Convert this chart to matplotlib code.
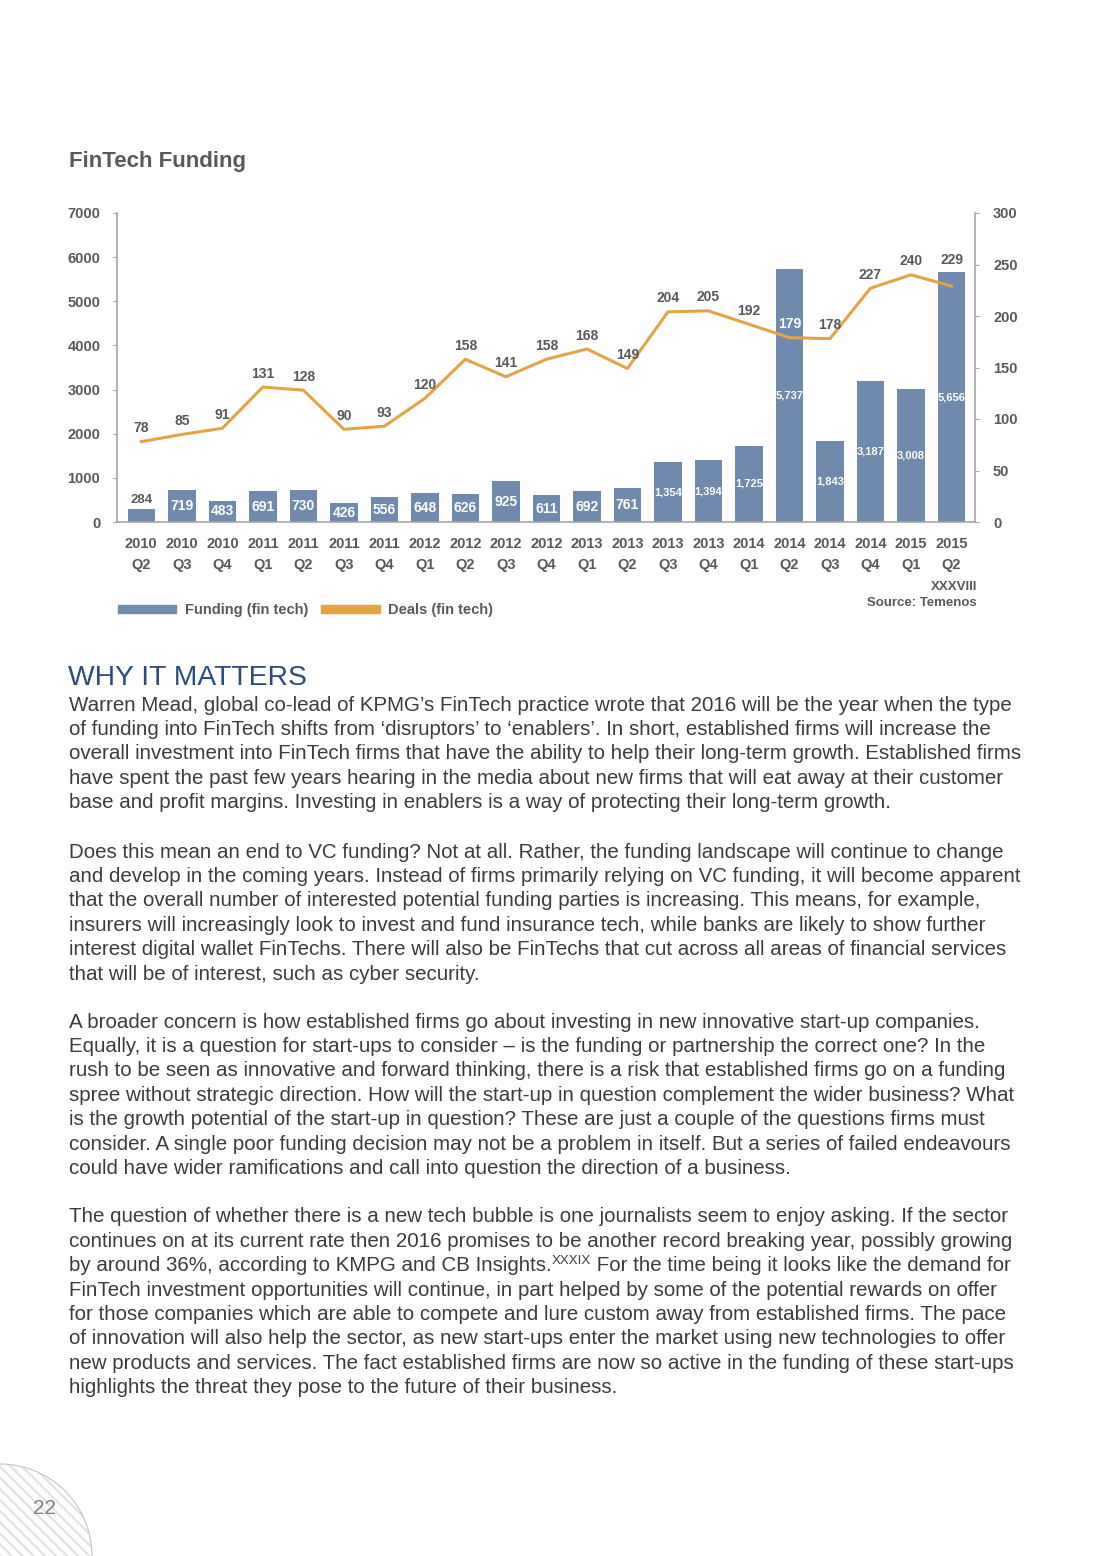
import matplotlib
matplotlib.use("Agg")
import matplotlib.pyplot as plt
from matplotlib.patches import Patch, Circle
import numpy as np

plt.rcParams['font.family'] = ['Liberation Sans', 'DejaVu Sans']
plt.rcParams['hatch.linewidth'] = 1.6

# chart data
labels = ['2010\nQ2', '2010\nQ3', '2010\nQ4', '2011\nQ1', '2011\nQ2', '2011\nQ3', '2011\nQ4',
          '2012\nQ1', '2012\nQ2', '2012\nQ3', '2012\nQ4', '2013\nQ1', '2013\nQ2', '2013\nQ3',
          '2013\nQ4', '2014\nQ1', '2014\nQ2', '2014\nQ3', '2014\nQ4', '2015\nQ1', '2015\nQ2']
funding = [284, 719, 483, 691, 730, 426, 556, 648, 626, 925, 611, 692, 761,
           1354, 1394, 1725, 5737, 1843, 3187, 3008, 5656]
deals = [78, 85, 91, 131, 128, 90, 93, 120, 158, 141, 158, 168, 149,
         204, 205, 192, 179, 178, 227, 240, 229]

BAR = '#6F8AAD'
LINE = '#E2A447'
GREY = '#595959'

fig = plt.figure(figsize=(11, 15.56), dpi=100)

# page layer in pixel coordinates
page = fig.add_axes([0, 0, 1, 1])
page.set_xlim(0, 1100)
page.set_ylim(1556, 0)
page.axis('off')

# chart
ax = fig.add_axes([117 / 1100, 1 - 522 / 1556, (975 - 117) / 1100, (522 - 213) / 1556])
x = np.arange(len(funding))
ax.bar(x, funding, width=0.68, color=BAR, zorder=2)
ax.set_ylim(0, 7000)
ax.set_xlim(-0.6, len(funding) - 0.42)
ax.set_yticks(range(0, 7001, 1000))
ax.set_xticks(x)
ax.set_xticklabels(labels, linespacing=1.6)
for s in ['top', 'right']:
    ax.spines[s].set_visible(False)
for s in ['left', 'bottom']:
    ax.spines[s].set_color('#a6a6a6')
    ax.spines[s].set_linewidth(1.2)
ax.tick_params(axis='y', length=3, color='#a6a6a6', labelsize=10.5, labelcolor=GREY, pad=9)
ax.tick_params(axis='x', length=0, labelsize=10.5, labelcolor=GREY, pad=11)
for t in ax.get_xticklabels() + ax.get_yticklabels():
    t.set_fontweight('bold')

for i, v in enumerate(funding):
    txt = f'{v:,}'
    if i == 0:
        ax.text(i, v + 80, txt, ha='center', va='bottom', fontsize=9.5,
                fontweight='bold', color=GREY)
    else:
        fs = 10 if v < 1000 else 8
        ax.text(i, v / 2, txt, ha='center', va='center', fontsize=fs,
                fontweight='bold', color='white', zorder=4)

ax2 = ax.twinx()
ax2.plot(x, deals, color=LINE, lw=2.2, zorder=3)
ax2.set_ylim(0, 300)
ax2.set_yticks(range(0, 301, 50))
for s in ['top', 'left', 'bottom']:
    ax2.spines[s].set_visible(False)
ax2.spines['right'].set_color('#a6a6a6')
ax2.spines['right'].set_linewidth(1.2)
ax2.tick_params(axis='y', length=3, color='#a6a6a6', labelsize=10.5, labelcolor=GREY, pad=10)
for t in ax2.get_yticklabels():
    t.set_fontweight('bold')

scale = 7000 / 300
for i, v in enumerate(deals):
    lab_y = v + 13          # label position in deals units
    bar_top = funding[i] / scale
    col = GREY
    if lab_y < bar_top:
        if bar_top - lab_y < 15:
            lab_y = bar_top + 12   # push just above the bar
        else:
            col = 'white'
    ax2.text(i, lab_y, str(v), ha='center', va='center', fontsize=10,
             fontweight='bold', color=col, zorder=5)

handles = [Patch(color=BAR, label='Funding (fin tech)'),
           Patch(color=LINE, label='Deals (fin tech)')]
ax.legend(handles=handles, loc='center left', bbox_to_anchor=(-0.006, -0.285), ncol=2,
          frameon=False, handlelength=4.0, handleheight=0.55, columnspacing=0.9,
          prop={'size': 10.5, 'weight': 'bold'}, labelcolor=GREY, borderaxespad=0,
          handletextpad=0.6)

# page texts
page.text(69, 161, 'FinTech Funding', fontsize=16, fontweight='bold', color=GREY, va='center')
page.text(977, 587, 'XXXVIII', fontsize=9.5, fontweight='bold', color=GREY, ha='right', va='center')
page.text(977, 603, 'Source: Temenos', fontsize=9.5, fontweight='bold', color=GREY, ha='right', va='center')

page.text(68, 678, 'WHY IT MATTERS', fontsize=20.3, color='#2C4C7E', va='center')

paras = [
    ["Warren Mead, global co-lead of KPMG’s FinTech practice wrote that 2016 will be the year when the type",
     "of funding into FinTech shifts from ‘disruptors’ to ‘enablers’. In short, established firms will increase the",
     "overall investment into FinTech firms that have the ability to help their long-term growth. Established firms",
     "have spent the past few years hearing in the media about new firms that will eat away at their customer",
     "base and profit margins. Investing in enablers is a way of protecting their long-term growth."],
    ["Does this mean an end to VC funding? Not at all. Rather, the funding landscape will continue to change",
     "and develop in the coming years. Instead of firms primarily relying on VC funding, it will become apparent",
     "that the overall number of interested potential funding parties is increasing. This means, for example,",
     "insurers will increasingly look to invest and fund insurance tech, while banks are likely to show further",
     "interest digital wallet FinTechs. There will also be FinTechs that cut across all areas of financial services",
     "that will be of interest, such as cyber security."],
    ["A broader concern is how established firms go about investing in new innovative start-up companies.",
     "Equally, it is a question for start-ups to consider – is the funding or partnership the correct one? In the",
     "rush to be seen as innovative and forward thinking, there is a risk that established firms go on a funding",
     "spree without strategic direction. How will the start-up in question complement the wider business? What",
     "is the growth potential of the start-up in question? These are just a couple of the questions firms must",
     "consider. A single poor funding decision may not be a problem in itself. But a series of failed endeavours",
     "could have wider ramifications and call into question the direction of a business."],
    ["The question of whether there is a new tech bubble is one journalists seem to enjoy asking. If the sector",
     "continues on at its current rate then 2016 promises to be another record breaking year, possibly growing",
     "by around 36%, according to KMPG and CB Insights.|XXXIX| For the time being it looks like the demand for",
     "FinTech investment opportunities will continue, in part helped by some of the potential rewards on offer",
     "for those companies which are able to compete and lure custom away from established firms. The pace",
     "of innovation will also help the sector, as new start-ups enter the market using new technologies to offer",
     "new products and services. The fact established firms are now so active in the funding of these start-ups",
     "highlights the threat they pose to the future of their business."],
]
para_y = [705, 852, 1022, 1217]
step = 24.4
body = dict(fontsize=14.8, color='#3c3c3c', va='center')

renderer = fig.canvas.get_renderer()
for y0, lines in zip(para_y, paras):
    for k, line in enumerate(lines):
        y = y0 + k * step
        if '|' in line:
            a, sup, b = line.split('|')
            t1 = page.text(69, y, a, **body)
            w1 = t1.get_window_extent(renderer).width
            t2 = page.text(69 + w1, y - 5, sup, fontsize=9.5, color='#3c3c3c', va='center')
            w2 = t2.get_window_extent(renderer).width
            page.text(69 + w1 + w2, y, b, **body)
        else:
            page.text(69, y, line, **body)

# page number and hatched corner
page.add_patch(Circle((0, 1556), 92, facecolor='none', edgecolor='#e2e2e2', hatch='\\\\\\',
                      lw=0, zorder=0))
page.add_patch(Circle((0, 1556), 92, facecolor='none', edgecolor='#c4c4c4', lw=0.8, zorder=1))
page.text(45, 1509, '22', fontsize=15, color='#808080', ha='center', va='center')

fig.savefig('out.png', dpi=100)
